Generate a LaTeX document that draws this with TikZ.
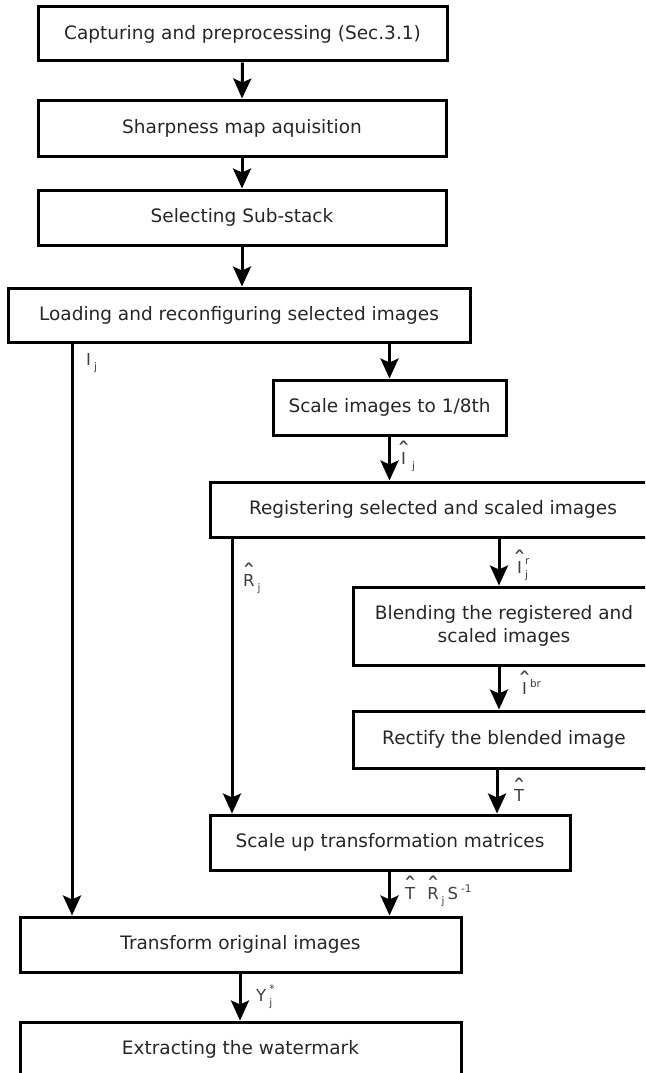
\documentclass[tikz,border=0pt]{standalone}
\usepackage{fontspec}
\setmainfont{DejaVu Sans}
\usetikzlibrary{arrows.meta}
% helpers for the symbol labels on the connectors
\newcommand\lsub[1]{\kern3pt\raisebox{-5pt}{\fontsize{10.5}{11}\selectfont #1}}
\newcommand\lsup[1]{\kern3pt\raisebox{7pt}{\fontsize{10.5}{11}\selectfont #1}}
\newcommand\lsupsub[2]{\kern3pt\rlap{\raisebox{9pt}{\fontsize{10.5}{11}\selectfont #1}}\raisebox{-5pt}{\fontsize{10.5}{11}\selectfont #2}}
\newcommand\hatx[1]{\setbox0\hbox{#1}\hbox to\wd0{\hss\raisebox{0.3em}{\scalebox{1.7}[1.4]{\symbol{"02C6}}}\hss}\kern-\wd0\box0}
\begin{document}
\begin{tikzpicture}[x=1pt,y=-1pt,
  stepbox/.style={draw, line width=3pt, rectangle, align=center,
    inner sep=0pt, font=\fontsize{18.5}{23}\selectfont, text=black!85},
  flow/.style={line width=3pt, -{Stealth[length=20pt,width=18pt,inset=4pt]}},
  sym/.style={anchor=base west, inner sep=0pt, text=black!75,
    font=\fontsize{16.5}{19}\selectfont}]
\useasboundingbox (0,0) rectangle (645,1073);
\clip (0,0) rectangle (645,1073);

% process boxes
\node[stepbox, minimum width=409pt, minimum height=54pt] (b1) at (242.5,34) {Capturing and preprocessing (Sec.3.1)};
\node[stepbox, minimum width=408pt, minimum height=56pt] (b2) at (242,128) {Sharpness map aquisition};
\node[stepbox, minimum width=408pt, minimum height=55pt] (b3) at (242,217.5) {Selecting Sub-stack};
\node[stepbox, minimum width=462pt, minimum height=54pt] (b4) at (239,315) {Loading and reconfiguring selected images};
\node[stepbox, minimum width=233pt, minimum height=55pt] (b5) at (389.5,407.5) {Scale images to 1/8th};
\node[stepbox, minimum width=446pt, minimum height=55pt] (b6) at (433,509.5) {Registering selected and scaled images};
\node[stepbox, minimum width=302pt, minimum height=78pt] (b7) at (504,626) {Blending the registered and\\scaled images};
\node[stepbox, minimum width=302pt, minimum height=57pt] (b8) at (504,739.5) {Rectify the blended image};
\node[stepbox, minimum width=360pt, minimum height=55pt] (b9) at (390,842.5) {Scale up transformation matrices};
\node[stepbox, minimum width=441pt, minimum height=55pt] (b10) at (240.5,944.5) {Transform original images};
\node[stepbox, minimum width=441pt, minimum height=55pt] (b11) at (240.5,1049.5) {Extracting the watermark};

% x positions of the connectors that do not leave from a box centre
\coordinate (xl) at (72,0);
\coordinate (xr) at (232,0);
\coordinate (xb) at (499,0);
\coordinate (xt) at (497,0);
\coordinate (xy) at (240,0);

% connectors
\draw[flow] (b1.south) -- (b2.north);
\draw[flow] (b2.south) -- (b3.north);
\draw[flow] (b3.south) -- (b4.north -| b3.south);
\draw[flow] (b5.north |- b4.south) -- (b5.north);
\draw[flow] (xl |- b4.south) -- (xl |- b10.north);
\draw[flow] (b5.south) -- (b5.south |- b6.north);
\draw[flow] (xr |- b6.south) -- (xr |- b9.north);
\draw[flow] (xb |- b6.south) -- (xb |- b7.north);
\draw[flow] (xb |- b7.south) -- (xb |- b8.north);
\draw[flow] (xt |- b8.south) -- (xt |- b9.north);
\draw[flow] (b9.south -| b5.south) -- (b5.south |- b10.north);
\draw[flow] (xy |- b10.south) -- (xy |- b11.north);

% connector symbols
\node[sym] (l1) at (86,365) {I\lsub{j}};
\node[sym] (l2) at (401,464) {\hatx{I}\kern3pt\lsub{j}};
\node[sym] (l3) at (243,586) {\hatx{R}\lsub{j}};
\node[sym] (l4) at (517,573) {\hatx{I}\lsupsub{r}{j}};
\node[sym] (l5) at (522,694) {\hatx{I}\lsup{br}};
\node[sym] (l6) at (514,801) {\hatx{T}};
\node[sym] (l7) at (405,899) {\hatx{T}\kern12pt\hatx{R}\lsub{j}\kern3pt S\lsup{-1}};
\node[sym] (l8) at (256,1001) {Y\lsupsub{*}{j}};
\end{tikzpicture}
\end{document}
